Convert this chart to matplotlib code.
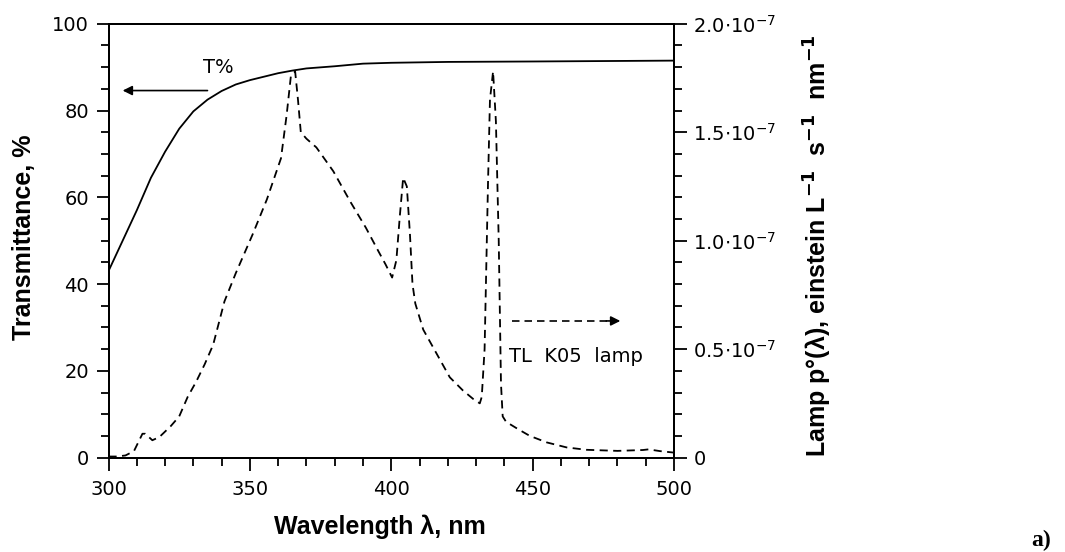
import numpy as np
import matplotlib
matplotlib.use('Agg')
import matplotlib.pyplot as plt

plt.rcParams['font.family'] = ['DejaVu Sans']
plt.rcParams['mathtext.fontset'] = 'dejavusans'

# ===== DADOS =====
# Transmitância (%) vs comprimento de onda (nm)
wl_T = [300, 305, 310, 315, 320, 325, 330, 335, 340, 345, 350, 355, 360,
        365, 370, 380, 390, 400, 420, 450, 500]
T_pct = [43.0, 50.0, 57.0, 64.5, 70.5, 75.8, 79.8, 82.5, 84.5, 86.0, 87.0,
         87.8, 88.6, 89.2, 89.7, 90.2, 90.8, 91.0, 91.2, 91.3, 91.5]

# Espectro da lâmpada TL K05 (unidades de 1e-7 einstein L-1 s-1 nm-1)
wl_lamp = [300, 303, 306, 309, 312, 313, 315.5, 318, 322, 325, 328, 331, 334,
           337, 341, 345, 351, 356, 361, 363, 364.5, 366, 367, 368, 370,
           373.5, 379.5, 385.5, 391, 395.5, 398, 400.3, 401.8, 403, 404.2,
           405.5, 406.6, 407.5, 408.5, 411.3, 416, 420.7, 425.3, 429, 431.3,
           432, 433, 434.2, 434.9, 436, 437, 438, 438.8, 439.4, 440.6, 445,
           449, 455, 462, 469, 480, 489, 491, 495, 500]
lamp_e7 = [0.005, 0.005, 0.01, 0.03, 0.11, 0.11, 0.08, 0.095, 0.145, 0.19,
           0.28, 0.35, 0.43, 0.52, 0.72, 0.85, 1.03, 1.19, 1.38, 1.58, 1.76,
           1.78, 1.65, 1.50, 1.47, 1.43, 1.32, 1.18, 1.06, 0.95, 0.89, 0.83,
           0.91, 1.11, 1.29, 1.25, 1.03, 0.80, 0.71, 0.59, 0.48, 0.37, 0.31,
           0.27, 0.25, 0.28, 0.50, 1.26, 1.65, 1.78, 1.55, 1.00, 0.34, 0.19,
           0.165, 0.13, 0.10, 0.07, 0.047, 0.036, 0.031, 0.035, 0.038, 0.03,
           0.023]

left_ticks = [0, 20, 40, 60, 80, 100]
right_ticks_e7 = [0, 0.5, 1.0, 1.5, 2.0]
right_labels = ['0', r'$0.5{\cdot}10^{-7}$', r'$1.0{\cdot}10^{-7}$',
                r'$1.5{\cdot}10^{-7}$', r'$2.0{\cdot}10^{-7}$']

label_font = ['Liberation Sans', 'DejaVu Sans']

# ===== FIGURA =====
fig = plt.figure(figsize=(10.65, 5.52), dpi=100)
ax = fig.add_axes([0.1019, 0.171, 0.531, 0.786])
ax2 = ax.twinx()

ax.plot(wl_T, T_pct, color='black', linewidth=1.3)
ax2.plot(wl_lamp, np.array(lamp_e7) * 1e-7, color='black', linewidth=1.3,
         linestyle=(0, (4.5, 3)))

ax.set_xlim(300, 500)
ax.set_ylim(0, 100)
ax2.set_ylim(0, 2.0e-7)

ax.set_xticks([300, 350, 400, 450, 500])
ax.set_xticks(np.arange(300, 501, 10), minor=True)
ax.set_yticks(left_ticks)
ax.set_yticks(np.arange(0, 101, 5), minor=True)
ax2.set_yticks(np.array(right_ticks_e7) * 1e-7)
ax2.set_yticklabels(right_labels)
ax2.set_yticks(np.arange(0, 2.01, 0.1) * 1e-7, minor=True)

for a in (ax, ax2):
    a.tick_params(which='major', direction='out', length=9, width=1.3,
                  labelsize=14, pad=5)
    a.tick_params(which='minor', direction='out', length=6, width=1.3)
    for s in a.spines.values():
        s.set_linewidth(1.4)
ax.tick_params(axis='x', which='both', top=False, pad=7)

fig.text(380 / 1065, 1 - 527 / 552, 'Wavelength λ, nm', ha='center',
         va='center', fontsize=18, fontweight='bold', family=label_font)
fig.text(24 / 1065, 1 - 237 / 552, 'Transmittance, %', rotation=90,
         ha='center', va='center', fontsize=18, fontweight='bold',
         family=label_font)
fig.text(818 / 1065, 1 - 246 / 552,
         r'Lamp p°(λ), einstein L$^{\mathbf{-1}}$  s$^{\mathbf{-1}}$  nm$^{\mathbf{-1}}$',
         rotation=90, ha='center', va='center', fontsize=18, fontweight='bold',
         family=label_font)

# anotações
ax.text(338.7, 90.0, 'T%', fontsize=14, ha='center', va='center')
ax.annotate('', xy=(305.0, 84.6), xytext=(335.0, 84.6),
            arrowprops=dict(arrowstyle='-|>', color='black', lw=1.2,
                            mutation_scale=14, shrinkA=0, shrinkB=0))
ax.plot([442.6, 477.5], [31.5, 31.5], color='black', lw=1.2,
        linestyle=(0, (4.5, 3)))
ax.annotate('', xy=(481.0, 31.5), xytext=(476.0, 31.5),
            arrowprops=dict(arrowstyle='-|>', color='black', lw=1.2,
                            mutation_scale=14, shrinkA=0, shrinkB=0))
ax.text(441.6, 23.2, 'TL  K05  lamp', fontsize=14, ha='left', va='center')

fig.text(1041 / 1065, 1 - 540 / 552, 'a)', fontsize=17, fontweight='bold',
         family=['Liberation Serif', 'DejaVu Serif'], ha='center', va='center')

fig.savefig('out.png', dpi=100)
